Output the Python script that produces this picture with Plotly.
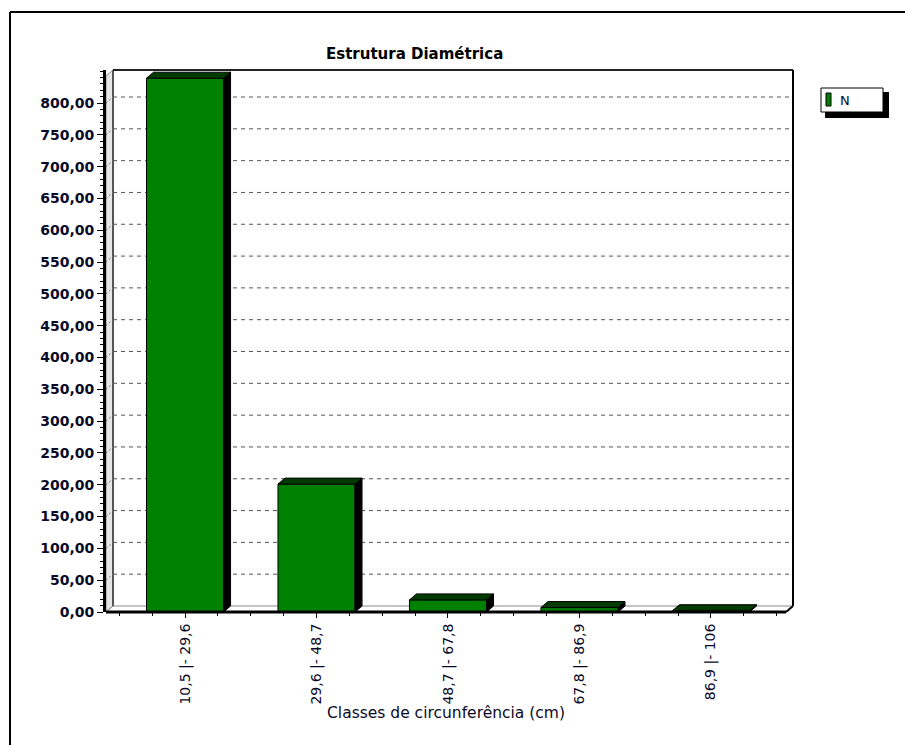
import plotly.graph_objects as go

# Diameter-class structure: number of stems (N) per circumference class
classes = ["10,5 |- 29,6", "29,6 |- 48,7", "48,7 |- 67,8", "67,8 |- 86,9", "86,9 |- 106"]
freq_n = [839, 201, 19, 7, 2]
y_major_step = 50
y_minor_step = 10
y_tick_values = list(range(0, 801, y_major_step))

# canvas and plot-area geometry (pixels)
W, H = 905, 745
L, R, T, B = 106, 793, 70, 612
DX, DY = 7, 6  # pseudo-3D depth offset
y_max = 851.9
x_min, x_max = -0.601, 4.624
bar_w = 0.586

FONT = "DejaVu Sans"
TXT = "#0a0a28"


def px_x(px):
    return (px - L) / (R - L)


def px_y(py):
    return (B - py) / (B - T)


ux = (x_max - x_min) / (R - L)
uy = y_max / (B - T)
ddx, ddy = DX * ux, DY * uy

fig = go.Figure()

# front faces of the bars
xs = list(range(len(classes)))
fig.add_trace(go.Bar(
    x=xs, y=freq_n, width=bar_w, name="N",
    marker=dict(color="#008000", line=dict(color="black", width=1)),
    hoverinfo="skip", showlegend=False,
))

# side (black) and top (dark green) faces built from the same values
side_x, side_y, top_x, top_y = [], [], [], []
for xi, v in zip(xs, freq_n):
    xr = xi + bar_w / 2
    xl = xi - bar_w / 2
    side_x += [xr, xr, xr + ddx, xr + ddx, xr, None]
    side_y += [0, v, v + ddy, ddy, 0, None]
    top_x += [xl, xl + ddx, xr + ddx, xr, xl, None]
    top_y += [v, v + ddy, v + ddy, v, v, None]

fig.add_trace(go.Scatter(
    x=side_x, y=side_y, mode="lines", fill="toself", fillcolor="black",
    line=dict(color="black", width=1), hoverinfo="skip", showlegend=False,
))
fig.add_trace(go.Scatter(
    x=top_x, y=top_y, mode="lines", fill="toself", fillcolor="#003c00",
    line=dict(color="black", width=1), hoverinfo="skip", showlegend=False,
))

shapes = []

# left wall of the chart box
shapes.append(dict(
    type="path", xref="paper", yref="paper", layer="below",
    path=(f"M {px_x(L)},{px_y(B)} L {px_x(L)},{px_y(T + DY)} "
          f"L {px_x(L + DX)},{px_y(T)} L {px_x(L + DX)},{px_y(B - DY)} Z"),
    fillcolor="#e6e6e6", line=dict(color="#8a8a8a", width=1),
))
# floor
shapes.append(dict(
    type="path", xref="paper", yref="paper", layer="below",
    path=(f"M {px_x(L)},{px_y(B)} L {px_x(L + DX)},{px_y(B - DY)} "
          f"L {px_x(R)},{px_y(B - DY)} L {px_x(R - DX)},{px_y(B)} Z"),
    fillcolor="white", line=dict(color="#8a8a8a", width=1),
))
# back wall edges
shapes.append(dict(type="line", xref="paper", yref="paper", layer="below",
                   x0=px_x(L + DX), x1=px_x(L + DX), y0=px_y(B - DY), y1=px_y(T),
                   line=dict(color="#555555", width=2)))
shapes.append(dict(type="line", xref="paper", yref="paper", layer="below",
                   x0=px_x(L + DX), x1=px_x(R), y0=px_y(T), y1=px_y(T),
                   line=dict(color="#222222", width=2)))
shapes.append(dict(type="line", xref="paper", yref="paper", layer="below",
                   x0=px_x(R), x1=px_x(R), y0=px_y(T), y1=px_y(B - DY),
                   line=dict(color="black", width=2)))

# dashed grid on the back wall, plus its trace across the left wall
for v in y_tick_values[1:]:
    shapes.append(dict(type="line", xref="paper", yref="y", layer="below",
                       x0=px_x(L + DX), x1=px_x(R), y0=v + ddy, y1=v + ddy,
                       line=dict(color="#555555", width=1, dash="4px,4px")))
    shapes.append(dict(type="line", xref="paper", yref="y", layer="below",
                       x0=px_x(L), x1=px_x(L + DX), y0=v, y1=v + ddy,
                       line=dict(color="#777777", width=1, dash="2px,2px")))

# front base line of the x axis
shapes.append(dict(type="line", xref="paper", yref="paper",
                   x0=px_x(L), x1=px_x(R - DX), y0=px_y(B), y1=px_y(B),
                   line=dict(color="black", width=3)))
shapes.append(dict(type="line", xref="paper", yref="paper",
                   x0=px_x(R - DX), x1=px_x(R), y0=px_y(B), y1=px_y(B - DY),
                   line=dict(color="black", width=2)))

# outer frame of the panel
shapes.append(dict(type="line", xref="paper", yref="paper",
                   x0=px_x(10), x1=px_x(W + 5), y0=px_y(12), y1=px_y(12),
                   line=dict(color="black", width=2)))
shapes.append(dict(type="line", xref="paper", yref="paper",
                   x0=px_x(10), x1=px_x(10), y0=px_y(12), y1=px_y(H + 5),
                   line=dict(color="black", width=2)))

# legend box with drop shadow
shapes.append(dict(type="rect", xref="paper", yref="paper",
                   x0=px_x(825), x1=px_x(889), y0=px_y(92), y1=px_y(118),
                   fillcolor="black", line=dict(width=0)))
shapes.append(dict(type="rect", xref="paper", yref="paper",
                   x0=px_x(821), x1=px_x(883), y0=px_y(88), y1=px_y(112),
                   fillcolor="white", line=dict(color="black", width=1)))
shapes.append(dict(type="rect", xref="paper", yref="paper",
                   x0=px_x(826), x1=px_x(831), y0=px_y(93), y1=px_y(106),
                   fillcolor="#008000", line=dict(color="black", width=1)))

annotations = [
    dict(text="Estrutura Diamétrica", xref="paper", yref="paper",
         x=px_x(414), y=px_y(54), xanchor="center", yanchor="middle",
         showarrow=False, font=dict(family=FONT, size=15, weight="bold", color="black")),
    dict(text="Classes de circunferência (cm)", xref="paper", yref="paper",
         x=px_x(446), y=px_y(713), xanchor="center", yanchor="middle",
         showarrow=False, font=dict(family=FONT, size=15.5, color=TXT)),
    dict(text="N", xref="paper", yref="paper",
         x=px_x(838), y=px_y(100), xanchor="left", yanchor="middle",
         showarrow=False, font=dict(family=FONT, size=13, color=TXT)),
]

fig.update_layout(
    width=W, height=H,
    margin=dict(l=L, r=W - R, t=T, b=H - B, pad=0),
    paper_bgcolor="white", plot_bgcolor="white",
    separators=",.",
    shapes=shapes, annotations=annotations,
    showlegend=False,
    xaxis=dict(
        range=[x_min, x_max], tickmode="array", tickvals=xs, ticktext=classes,
        tickangle=-90, ticks="outside", ticklen=5, tickcolor="black",
        tickfont=dict(family=FONT, size=14, color=TXT),
        showgrid=False, zeroline=False, showline=False,
        minor=dict(tick0=0, dtick=0.25, ticks="outside", ticklen=3, tickcolor="black"),
        fixedrange=True,
    ),
    yaxis=dict(
        range=[0, y_max], tickmode="array", tickvals=y_tick_values,
        tickformat=".2f",
        ticks="outside", ticklen=6, tickcolor="black",
        tickfont=dict(family=FONT, size=14, weight="bold", color=TXT),
        showgrid=False, zeroline=False,
        showline=True, linecolor="black", linewidth=3,
        minor=dict(tick0=0, dtick=y_minor_step, ticks="outside", ticklen=3, tickcolor="black"),
        fixedrange=True,
    ),
)

fig.write_html("out.html")
